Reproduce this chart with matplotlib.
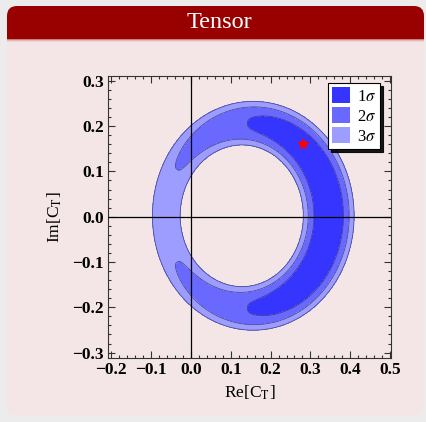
import numpy as np
import matplotlib
matplotlib.use("Agg")
import matplotlib.pyplot as plt
from matplotlib.patches import FancyBboxPatch, Rectangle, Patch
from matplotlib.ticker import MultipleLocator, FuncFormatter

plt.rcParams['font.family'] = ['Liberation Serif', 'DejaVu Serif']
plt.rcParams['mathtext.fontset'] = 'stix'

# ring fit (Re, Im of C_T)
ring_center = (0.142, 0.002)
ring_radius = 0.204
width_terms = [0.0235, 0.00375, 0.00075]   # w(phi) = a + b cos(phi) + c cos(2 phi)
angle_penalty = 2.3                         # dchi2 at phi = 90 deg (1 sigma tip)
angle_power = 1.585                         # puts the 2 sigma tip at ~150 deg
best_fit = (0.282, 0.160)

levels = [0, 2.30, 6.18, 11.83]
fill_colors = ['#3535ff', '#6969ff', '#9d9dff']
labels = [r'1$\sigma$', r'2$\sigma$', r'3$\sigma$']

xticks = [-0.2, -0.1, 0.0, 0.1, 0.2, 0.3, 0.4, 0.5]
yticks = [-0.3, -0.2, -0.1, 0.0, 0.1, 0.2, 0.3]

W, H = 426, 422
fig = plt.figure(figsize=(W / 100, H / 100), dpi=100)
fig.patch.set_facecolor('#ececec')

def px(x, y_top, w, h):
    # pixel box (top-left origin) -> inches, bottom-left origin
    return (x / 100, (H - y_top - h) / 100, w / 100, h / 100)

tr = fig.dpi_scale_trans
x0, y0, w0, h0 = px(7, 6, 417, 410)
fig.add_artist(FancyBboxPatch((x0, y0), w0, h0, boxstyle="round,pad=0,rounding_size=0.1",
                              fc='#f4e6e6', ec='none', transform=tr, zorder=-10))
x0, y0, w0, h0 = px(7, 6, 417, 60)
fig.add_artist(FancyBboxPatch((x0, y0), w0, h0, boxstyle="round,pad=0,rounding_size=0.1",
                              fc='#990000', ec='none', transform=tr, zorder=-9))
x0, y0, w0, h0 = px(7, 39, 417, 30)
fig.add_artist(Rectangle((x0, y0), w0, h0, fc='#f4e6e6', ec='none', transform=tr, zorder=-8))
for i, c in enumerate(['#c98080', '#e0b8b8', '#ecd6d6']):
    x0, y0, w0, h0 = px(7, 39 + i, 417, 1)
    fig.add_artist(Rectangle((x0, y0), w0, h0, fc=c, ec='none', transform=tr, zorder=-7))
fig.text(219 / W, 1 - 22 / H, 'Tensor', color='white', fontsize=17.5,
         ha='center', va='center')

ax = fig.add_axes([108 / W, 1 - 358 / H, 283 / W, 282.3 / H])
ax.set_facecolor('#f4e6e6')

xs = np.linspace(-0.21, 0.51, 700)
ys = np.linspace(-0.32, 0.32, 700)
X, Y = np.meshgrid(xs, ys)
dx = X - ring_center[0]
dy = Y - ring_center[1]
r = np.hypot(dx, dy)
phi = np.arctan2(dy, dx)
a, b, c = width_terms
w = a + b * np.cos(phi) + c * np.cos(2 * phi)
chi2 = (np.abs(r - ring_radius) / w) ** 3 + angle_penalty * (1 - np.cos(phi)) ** angle_power

ax.contourf(X, Y, chi2, levels=levels, colors=fill_colors, zorder=1)
ax.contour(X, Y, chi2, levels=levels[1:], colors='#30307a', linewidths=0.6,
           alpha=0.75, zorder=2)

ax.axhline(0, color='black', lw=0.9, zorder=3)
ax.axvline(0, color='black', lw=0.9, zorder=3)
ax.plot(*best_fit, marker='*', color='red', markersize=8, ls='none', zorder=4)

ax.set_xlim(-0.2085, 0.5025)
ax.set_ylim(-0.312, 0.3113)
ax.set_xticks(xticks)
ax.set_yticks(yticks)
ax.xaxis.set_minor_locator(MultipleLocator(0.02))
ax.yaxis.set_minor_locator(MultipleLocator(0.02))
fmt = FuncFormatter(lambda v, p: f'{v:.1f}'.replace('-', '\u2212') if abs(v) > 1e-9 else '0.0')
ax.xaxis.set_major_formatter(fmt)
ax.yaxis.set_major_formatter(fmt)
ax.tick_params(which='both', direction='in', top=True, right=True, labelsize=12.5,
               color='#333333', width=0.8, pad=3)
ax.tick_params(which='major', length=5)
ax.tick_params(which='minor', length=2.5)
for lab in ax.get_xticklabels() + ax.get_yticklabels():
    lab.set_fontweight('bold')
for s in ax.spines.values():
    s.set_color('#333333')
    s.set_linewidth(0.8)

ax.set_xlabel(r'Re[C$_{\rm T}$]', fontsize=12.5, labelpad=4)
ax.set_ylabel(r'Im[C$_{\rm T}$]', fontsize=12.5, labelpad=6)

handles = [Patch(fc=col, ec='none') for col in fill_colors]
leg = ax.legend(handles, labels, loc='upper right', bbox_to_anchor=(0.962, 0.975),
                fontsize=12, fancybox=False, edgecolor='black', framealpha=1,
                shadow={'color': 'black', 'alpha': 0.9}, handlelength=1.1, handleheight=1.1,
                handletextpad=0.4, labelspacing=0.15, borderpad=0.25, borderaxespad=0)
leg.get_frame().set_linewidth(0.8)

fig.savefig('out.png', dpi=100, facecolor=fig.get_facecolor())
